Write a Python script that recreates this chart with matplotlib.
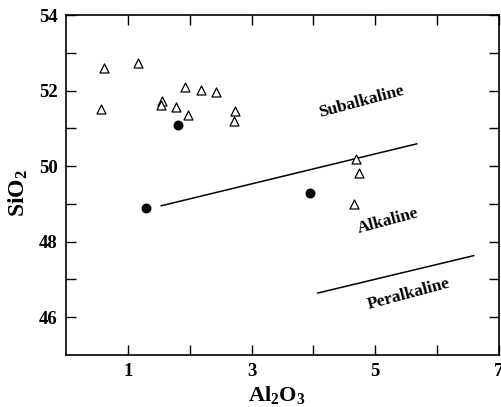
import numpy as np
import matplotlib
matplotlib.use("Agg")
import matplotlib.pyplot as plt

plt.rcParams.update({"font.family": "Liberation Serif", "font.weight": "bold",
                     "mathtext.default": "regular"})

# open triangles
tri_x = [0.61, 0.56, 1.17, 1.55, 1.53, 1.78, 1.92, 1.98, 2.18, 2.43, 2.73, 2.71, 4.69, 4.74, 4.66]
tri_y = [52.60, 51.50, 52.74, 51.73, 51.63, 51.57, 52.09, 51.35, 52.02, 51.96, 51.45, 51.20, 50.18, 49.83, 49.00]
# filled circles
dot_x = [1.81, 1.30, 3.94]
dot_y = [51.09, 48.90, 49.28]
# field boundaries
sub_alk_x = [1.54, 5.67]
sub_alk_y = [48.95, 50.59]
alk_per_x = [4.07, 6.59]
alk_per_y = [46.64, 47.63]

fig = plt.figure(figsize=(5.01, 4.07), dpi=100)
ax = fig.add_axes([66/501, 1 - 355/407, (499 - 66)/501, (355 - 15)/407])

ax.plot(sub_alk_x, sub_alk_y, color="black", lw=1.1)
ax.plot(alk_per_x, alk_per_y, color="black", lw=1.1)
ax.scatter(tri_x, tri_y, marker="^", s=42, facecolors="white", edgecolors="black", linewidths=0.9, zorder=3)
ax.scatter(dot_x, dot_y, marker="o", s=38, color="black", zorder=3)

ax.text(4.78, 51.70, "Subalkaline", rotation=15, ha="center", va="center", fontsize=12.5)
ax.text(5.21, 48.56, "Alkaline", rotation=15, ha="center", va="center", fontsize=12.5)
ax.text(5.54, 46.61, "Peralkaline", rotation=15, ha="center", va="center", fontsize=12.5)

ax.set_xlim(0, 7)
ax.set_ylim(45, 54)
ax.set_xticks(np.arange(1, 8))
ax.set_xticklabels(["1", "", "3", "", "5", "", "7"])
ax.set_yticks(np.arange(46, 55))
ax.set_yticklabels(["46", "", "48", "", "50", "", "52", "", "54"])
ax.tick_params(direction="in", length=7, width=1.0, top=True, right=True, labelsize=13.5, pad=6)
for sp in ax.spines.values():
    sp.set_linewidth(1.2)

ax.set_xlabel("Al$_2$O$_3$", fontsize=16, fontweight="bold")
ax.set_ylabel("SiO$_2$", fontsize=17, fontweight="bold")
ax.xaxis.set_label_coords(0.487, -0.085)
ax.yaxis.set_label_coords(-0.083, 0.476)

fig.savefig("out.png", dpi=100)
